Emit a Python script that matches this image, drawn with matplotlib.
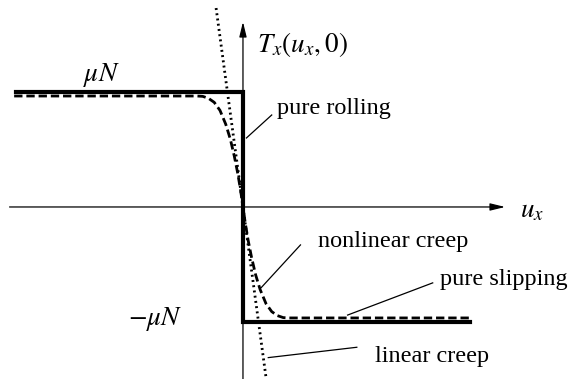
import matplotlib.pyplot as plt

plt.rcParams['font.family'] = ['Liberation Serif', 'DejaVu Serif']
plt.rcParams['mathtext.fontset'] = 'stix'

# traction limit and plateau extent (units of muN)
mu_N = 1.0
u_max = 1.97
# linear creep: slope of T_x against u_x at the origin
creep_slope = -7.4
creep_T = [1.73, -1.5]

# nonlinear creep branch for u_x <= 0 (mirrored for u_x >= 0)
creep_u = [0.0, 0.02, 0.045, 0.075, 0.11, 0.15, 0.2, 0.25, 0.3, 0.35, 0.40, 1.99]
creep_val = [0.0, 0.14, 0.29, 0.44, 0.59, 0.72, 0.84, 0.91, 0.945, 0.962, 0.965, 0.965]

fig = plt.figure(figsize=(5.83, 3.79), dpi=100)
ax = fig.add_axes([0, 0, 1, 1])
ax.set_xlim(-2.113, 2.957)
ax.set_ylim(-1.496, 1.8)
ax.axis('off')

# axes with arrows
arrow = dict(arrowstyle='-|>,head_length=0.9,head_width=0.22', lw=0.9, color='k',
             shrinkA=0, shrinkB=0)
ax.annotate('', xy=(2.28, 0), xytext=(-2.03, 0), arrowprops=arrow)
ax.annotate('', xy=(0, 1.61), xytext=(0, -1.5), arrowprops=arrow)

# pure rolling / pure slipping
ax.plot([-u_max, 0, 0, u_max], [mu_N, mu_N, -mu_N, -mu_N], color='k', lw=3.0,
        solid_joinstyle='miter')

# nonlinear creep
xs = [-u for u in creep_u[::-1]] + creep_u[1:]
ys = creep_val[::-1] + [-t for t in creep_val[1:]]
ax.plot(xs, ys, color='k', lw=2.0, linestyle=(0, (3.0, 1.4)))

# linear creep
ax.plot([t / creep_slope for t in creep_T], creep_T, color='k', lw=2.0,
        linestyle=(0, (0.7, 1.2)))

fs = 17.5
ms = 19.5
ax.text(-1.23, 1.15, r'$\mu N$', fontsize=ms, ha='center', va='center')
ax.text(-0.76, -0.97, r'$-\mu N$', fontsize=ms, ha='center', va='center')
ax.text(0.12, 1.41, r'$T_x(u_x, 0)$', fontsize=ms, ha='left', va='center')
ax.text(2.41, -0.03, r'$u_x$', fontsize=ms, ha='left', va='center')

# labels with leader lines
ax.text(0.3, 0.86, 'pure rolling', fontsize=fs, ha='left', va='center')
ax.plot([0.03, 0.25], [0.6, 0.8], color='k', lw=0.9)

ax.text(0.65, -0.3, 'nonlinear creep', fontsize=fs, ha='left', va='center')
ax.plot([0.16, 0.5], [-0.7, -0.33], color='k', lw=0.9)

ax.text(1.71, -0.63, 'pure slipping', fontsize=fs, ha='left', va='center')
ax.plot([0.91, 1.65], [-0.94, -0.66], color='k', lw=0.9)

ax.text(1.15, -1.3, 'linear creep', fontsize=fs, ha='left', va='center')
ax.plot([0.22, 0.99], [-1.31, -1.22], color='k', lw=0.9)

fig.savefig('out.png', dpi=100)
